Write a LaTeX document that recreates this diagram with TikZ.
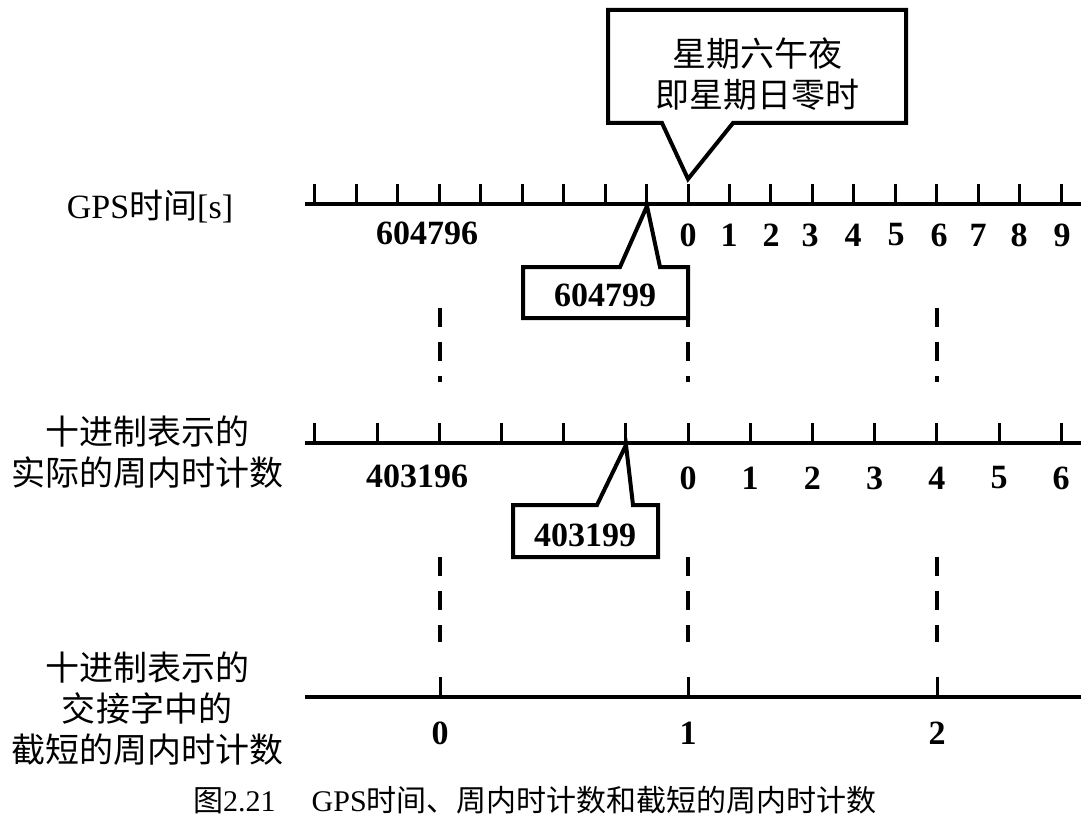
\documentclass[tikz,border=0pt]{standalone}
\usepackage{fontspec}
\setmainfont{Liberation Serif}
\newfontfamily\cjk{Noto Sans CJK SC}
\begin{document}
\begin{tikzpicture}[x=1pt,y=-1pt,
  axisline/.style={line width=4pt},
  tk/.style={line width=3pt},
  callout/.style={line width=4pt,fill=white,line join=miter},
  guide/.style={line width=3.5pt,dash pattern=on 19pt off 15pt},
  num/.style={font=\fontsize{34}{40}\selectfont\bfseries,inner sep=0pt},
  lbl/.style={font=\fontsize{34}{41}\selectfont,align=center,inner sep=0pt},
  cjklbl/.style={font=\fontsize{34}{41}\selectfont\cjk,align=center,inner sep=0pt},
]
\useasboundingbox (0,0) rectangle (1091,829);

% axes
\coordinate (A1l) at (305,204); \coordinate (A1r) at (1081,204);
\coordinate (A2l) at (305,443); \coordinate (A2r) at (1081,443);
\coordinate (A3l) at (305,697); \coordinate (A3r) at (1081,697);
\draw[axisline] (A1l) -- (A1r);
\draw[axisline] (A2l) -- (A2r);
\draw[axisline] (A3l) -- (A3r);
\foreach \k in {-9,...,9} \draw[tk] (688+41.47*\k,204) -- ++(0,-20);
\foreach \k in {-6,...,6} \draw[tk] (688+62.2*\k,443) -- ++(0,-20);
\foreach \x in {440,688,937} \draw[tk] (\x,697) -- ++(0,-20);

% guide lines
\foreach \x in {440,688,937} {
  \draw[guide] (\x,308) -- (\x,382);
  \draw[guide] (\x,557) -- (\x,642);
}

% numbers
\node[num] (n604796) at (427,233) {604796};
\foreach \x/\d in {688/0,729/1,771/2,810/3,853/4,896/5,939/6,978/7,1019/8,1062/9}
  \node[num] (g\d) at (\x,235) {\d};
\node[num] (n403196) at (417,476) {403196};
\foreach \d in {0,...,6}
  \node[num] (m\d) at (688+62.2*\d,478) {\d};
\foreach \x/\d in {440/0,688/1,937/2}
  \node[num] (b\d) at (\x,733) {\d};

% callouts
\draw[callout] (608,10) -- (906,10) -- (906,123) -- (733,123) -- (688,179) -- (662,123) -- (608,123) -- cycle;
\node[cjklbl] (note) at (757,74) {星期六午夜\\即星期日零时};
\draw[callout] (523,267) -- (620,267) -- (647,206) -- (660,267) -- (688,267) -- (688,318) -- (523,318) -- cycle;
\node[num] (c604799) at (605,295) {604799};
\draw[callout] (513,505) -- (597,505) -- (626,445) -- (633,505) -- (658,505) -- (658,557) -- (513,557) -- cycle;
\node[num] (c403199) at (585,535) {403199};

% left labels
\node[lbl] (lgps) at (150,207) {GPS{\cjk 时间}[s]};
\node[cjklbl] (lmid) at (147,452) {十进制表示的\\实际的周内时计数};
\node[cjklbl] (lbot) at (147,709) {十进制表示的\\交接字中的\\截短的周内时计数};

% caption
\node[lbl,font=\fontsize{30}{36}\selectfont] (cap) at (535,800) {{\cjk 图}2.21\hspace{1.2em}GPS{\cjk 时间、周内时计数和截短的周内时计数}};
\end{tikzpicture}
\end{document}
